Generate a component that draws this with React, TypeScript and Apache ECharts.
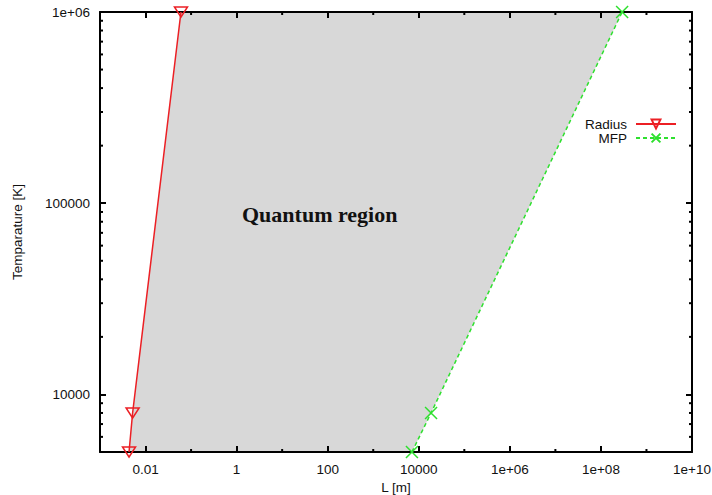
import React, { useEffect, useRef } from "react";
import * as echarts from "echarts";

// ---- data ----
const temps: number[] = [5000, 8000, 1000000];
const radiusL: number[] = [0.00434, 0.0052, 0.06];
const mfpL: number[] = [7080, 18600, 2.92e8];
const xMajorTicks: number[] = [0.01, 1, 100, 10000, 1e6, 1e8, 1e10];
const yMajorTicks: number[] = [10000, 100000, 1000000];
const xMinorTicks: number[] = [0.1, 10, 1000, 1e5, 1e7, 1e9];
const yMinorTicks: number[] = [
  6000, 7000, 8000, 9000,
  20000, 30000, 40000, 50000, 60000, 70000, 80000, 90000,
  200000, 300000, 400000, 500000, 600000, 700000, 800000, 900000,
];
const xMin = 0.001;
const xMax = 1e10;
const yMin = 5000;
const yMax = 1e6;

const RED = "#ec1f24";
const GREEN = "#2ee02e";
const FONT = "'Liberation Sans', Arial, Helvetica, sans-serif";

function fmt(v: number): string {
  if (v >= 1e6) {
    const e = Math.round(Math.log10(v));
    return "1e+" + (e < 10 ? "0" + e : String(e));
  }
  if (v < 1) return String(Number(v.toPrecision(3)));
  return String(Math.round(v));
}

export default function App() {
  const ref = useRef<HTMLDivElement>(null);
  useEffect(() => {
    if (!ref.current) return;
    const chart = echarts.init(ref.current, undefined, { renderer: "svg" });

    const axisCommon = {
      type: "log" as const,
      logBase: 10,
      z: 5,
      axisLine: { show: true, onZero: false, lineStyle: { color: "#000", width: 2 } },
      splitLine: { show: false },
    };

    const option: any = {
      animation: false,
      backgroundColor: "#fff",
      grid: { left: 100, right: 20, top: 12, bottom: 43, containLabel: false, outerBoundsMode: "none" },
      xAxis: [
        {
          ...axisCommon,
          position: "bottom",
          min: xMin,
          max: xMax,
          name: "L [m]",
          nameLocation: "middle",
          nameGap: 28,
          nameTextStyle: { color: "#111", fontSize: 13.5, fontFamily: FONT },
          axisTick: { show: true, inside: true, length: 6, customValues: xMajorTicks, lineStyle: { color: "#000", width: 2 } },
          axisLabel: {
            show: true,
            margin: 10,
            color: "#111",
            fontSize: 13.5,
            fontFamily: FONT,
            customValues: xMajorTicks,
            formatter: (v: number) => fmt(v),
          },
        },
        {
          ...axisCommon,
          position: "top",
          min: xMin,
          max: xMax,
          axisTick: { show: true, inside: true, length: 6, customValues: xMajorTicks, lineStyle: { color: "#000", width: 2 } },
          axisLabel: { show: false },
        },
      ],
      yAxis: [
        {
          ...axisCommon,
          position: "left",
          min: yMin,
          max: yMax,
          name: "Temparature [K]",
          nameLocation: "middle",
          nameGap: 76,
          nameTextStyle: { color: "#111", fontSize: 13.5, fontFamily: FONT },
          axisTick: { show: true, inside: true, length: 6, customValues: yMajorTicks, lineStyle: { color: "#000", width: 2 } },
          axisLabel: {
            show: true,
            margin: 10,
            color: "#111",
            fontSize: 13.5,
            fontFamily: FONT,
            customValues: yMajorTicks,
            formatter: (v: number) => fmt(v),
          },
        },
        {
          ...axisCommon,
          position: "right",
          min: yMin,
          max: yMax,
          axisTick: { show: true, inside: true, length: 6, customValues: yMajorTicks, lineStyle: { color: "#000", width: 2 } },
          axisLabel: { show: false },
        },
      ],
      legend: {
        data: ["Radius", "MFP"],
        orient: "vertical",
        right: 35,
        top: 117,
        padding: 0,
        align: "right",
        itemWidth: 40,
        itemHeight: 11,
        itemGap: 0,
        textStyle: { color: "#111", fontSize: 13.5, lineHeight: 14, fontFamily: FONT, padding: [0, 4, 0, 0] },
      },
      graphic: [
        {
          type: "text",
          left: 242,
          top: 203,
          z: 10,
          style: {
            text: "Quantum region",
            fill: "#111",
            font: "bold 22px 'Liberation Serif', 'DejaVu Serif', serif",
          },
        },
      ],
      series: [
        {
          type: "custom",
          name: "region",
          silent: true,
          z: 1,
          data: [0],
          renderItem: (params: any, api: any) => {
            const pts: number[][] = [];
            for (let i = 0; i < temps.length; i++) pts.push(api.coord([radiusL[i], temps[i]]));
            for (let i = temps.length - 1; i >= 0; i--) pts.push(api.coord([mfpL[i], temps[i]]));
            return {
              type: "polygon",
              shape: { points: pts },
              style: { fill: "#d8d8d8", stroke: "none" },
            };
          },
        },
        {
          type: "custom",
          name: "xminor",
          silent: true,
          z: 6,
          data: xMinorTicks,
          renderItem: (params: any, api: any) => {
            const cs = params.coordSys;
            const p = api.coord([api.value(0), yMin]);
            const x = p[0];
            return {
              type: "group",
              children: [
                { type: "line", shape: { x1: x, y1: cs.y + cs.height, x2: x, y2: cs.y + cs.height - 3 }, style: { stroke: "#000", lineWidth: 2 } },
                { type: "line", shape: { x1: x, y1: cs.y, x2: x, y2: cs.y + 3 }, style: { stroke: "#000", lineWidth: 2 } },
              ],
            };
          },
        },
        {
          type: "custom",
          name: "yminor",
          silent: true,
          z: 6,
          data: yMinorTicks.map((v) => [1, v]),
          renderItem: (params: any, api: any) => {
            const cs = params.coordSys;
            const p = api.coord([1, api.value(1)]);
            const y = p[1];
            return {
              type: "group",
              children: [
                { type: "line", shape: { x1: cs.x, y1: y, x2: cs.x + 3, y2: y }, style: { stroke: "#000", lineWidth: 2 } },
                { type: "line", shape: { x1: cs.x + cs.width, y1: y, x2: cs.x + cs.width - 3, y2: y }, style: { stroke: "#000", lineWidth: 2 } },
              ],
            };
          },
        },
        {
          type: "line",
          name: "Radius",
          z: 8,
          data: radiusL.map((l, i) => [l, temps[i]]),
          symbol: "path://M0,0 L14,0 L7,11 Z",
          symbolSize: [13, 10],
          showAllSymbol: true,
          clip: false,
          lineStyle: { color: RED, width: 1.5 },
          itemStyle: { color: "rgba(0,0,0,0)", borderColor: RED, borderWidth: 1.5 },
          color: RED,
        },
        {
          type: "line",
          name: "MFP",
          z: 8,
          data: mfpL.map((l, i) => [l, temps[i]]),
          symbol: "path://M0,0 L10,10 M10,0 L0,10",
          symbolSize: 12,
          showAllSymbol: true,
          clip: false,
          lineStyle: { color: GREEN, width: 1.5, type: [4, 3] },
          itemStyle: { color: "rgba(0,0,0,0)", borderColor: GREEN, borderWidth: 1.5 },
          color: GREEN,
        },
      ],
    };

    chart.setOption(option);
    return () => chart.dispose();
  }, []);

  return (
    <div
      ref={ref}
      style={{ position: "fixed", left: 0, top: 0, width: 712, height: 495 }}
    />
  );
}
